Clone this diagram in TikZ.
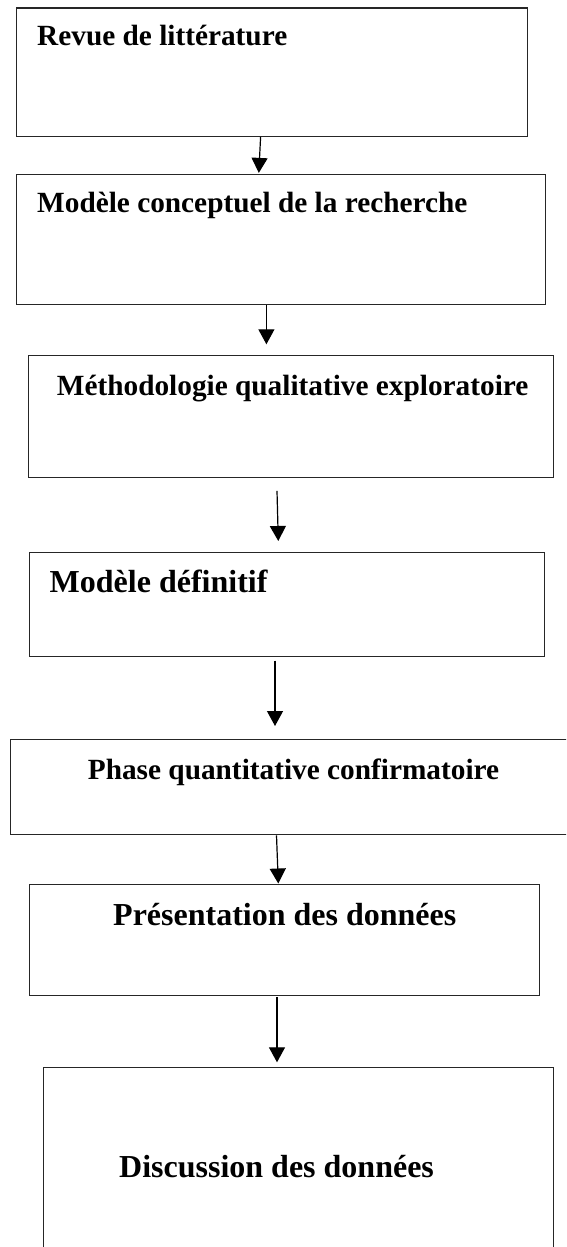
\documentclass[tikz,border=0pt]{standalone}
\usepackage{fontspec}
\setmainfont{Liberation Serif}
\usetikzlibrary{calc,arrows.meta}

\begin{document}
\begin{tikzpicture}[x=1pt,y=-1pt,
  stagebox/.style={draw=black!85,line width=1.3pt,rectangle,inner sep=0pt,
                   anchor=north west},
  stagetext/.style={anchor=base west,inner sep=0pt,font=\bfseries\fontsize{29.3}{34}\selectfont},
  bigtext/.style={anchor=base west,inner sep=0pt,font=\bfseries\fontsize{32}{38}\selectfont},
  flow/.style={line width=1.2pt,-{Triangle[width=16pt,length=15pt]}}]

  \useasboundingbox (0,0) rectangle (566,1247);
  \clip (0,0) rectangle (566,1247);

  % stage boxes
  \node[stagebox,minimum width=511pt,minimum height=128pt] (b1) at (16,7.5) {};
  \node[stagebox,minimum width=529pt,minimum height=130pt] (b2) at (16,173.5) {};
  \node[stagebox,minimum width=525pt,minimum height=122pt] (b3) at (28,355) {};
  \node[stagebox,minimum width=515pt,minimum height=104pt] (b4) at (29,552) {};
  \node[stagebox,minimum width=580pt,minimum height=95pt]  (b5) at (10,739) {};
  \node[stagebox,minimum width=510pt,minimum height=111.5pt] (b6) at (28.5,883.5) {};
  \node[stagebox,minimum width=510pt,minimum height=250pt] (b7) at (42.5,1067) {};

  % stage titles
  \node[stagetext] (t1) at ($(b1.north west)+(21,38.5)$) {Revue de littérature};
  \node[stagetext] (t2) at ($(b2.north west)+(21,38.8)$) {Modèle conceptuel de la recherche};
  \node[stagetext] (t3) at ($(b3.north west)+(28.7,40)$) {Méthodologie qualitative exploratoire};
  \node[bigtext]   (t4) at ($(b4.north west)+(20.5,40.3)$) {Modèle définitif};
  \node[stagetext] (t5) at ($(b5.north west)+(77.7,40)$) {Phase quantitative confirmatoire};
  \node[bigtext]   (t6) at ($(b6.north west)+(84.5,42.2)$) {Présentation des données};
  \node[bigtext]   (t7) at ($(b7.north west)+(76.5,110.3)$) {Discussion des données};

  % connectors
  \draw[flow] ($(b1.south west)+(244.6,0)$) -- ($(b2.north west)+(242.8,-0.6)$);
  \draw[flow] ($(b2.south west)+(250.4,0)$) -- ($(b3.north west)+(238.4,-10.7)$);
  \draw[flow] ($(b3.south west)+(249,12.6)$) -- ($(b4.north west)+(249.3,-11)$);
  \draw[flow] ($(b4.south west)+(246,3.3)$) -- ($(b5.north west)+(265,-13)$);
  \draw[flow] ($(b5.south west)+(266.5,0)$) -- ($(b6.north west)+(249.8,0)$);
  \draw[flow] ($(b6.south west)+(248.5,1)$) -- ($(b7.north west)+(234.5,-4.7)$);
\end{tikzpicture}
\end{document}
